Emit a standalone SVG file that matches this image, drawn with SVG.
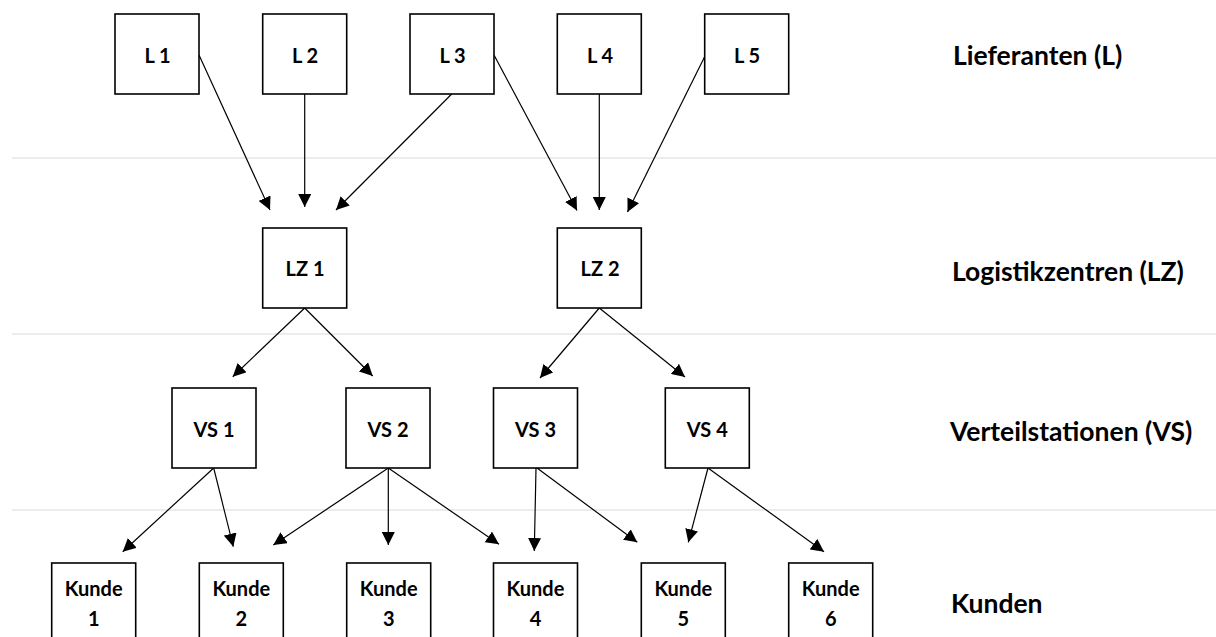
<svg xmlns="http://www.w3.org/2000/svg" width="1216" height="637" viewBox="0 0 1216 637">
<style>
.box{fill:#fff;stroke:#000;stroke-width:1.6}
.lbl{font-family:Lato,"Open Sans","Liberation Sans",sans-serif;font-weight:bold;font-size:20px;fill:#000;text-anchor:middle}
.lvl{font-family:Lato,"Open Sans","Liberation Sans",sans-serif;font-weight:bold;font-size:26.5px;fill:#000}
.sep{stroke:#d9d9d9;stroke-width:1.2}
.con{stroke:#000;stroke-width:1.2;fill:none;marker-end:url(#ah)}
</style>
<defs>
<marker id="ah" markerWidth="13" markerHeight="13" refX="13" refY="6.5" orient="auto" markerUnits="userSpaceOnUse">
<path d="M0,0 L13,6.5 L0,13 Z" fill="#000"/>
</marker>
</defs>
<rect width="1216" height="637" fill="#fff"/>
<g id="separators">
<line class="sep" x1="12" y1="158" x2="1216" y2="158"/>
<line class="sep" x1="12" y1="334" x2="1216" y2="334"/>
<line class="sep" x1="12" y1="510" x2="1216" y2="510"/>
</g>
<g id="levels">
<text class="lvl" x="953" y="65">Lieferanten (L)</text>
<text class="lvl" x="952" y="281">Logistikzentren (LZ)</text>
<text class="lvl" x="950" y="441">Verteilstationen (VS)</text>
<text class="lvl" x="951" y="613">Kunden</text>
</g>
<g id="connectors">
<line class="con" x1="199" y1="55" x2="270" y2="210"/>
<line class="con" x1="304.7" y1="94" x2="304.7" y2="207"/>
<line class="con" x1="451.7" y1="94" x2="336" y2="210"/>
<line class="con" x1="494" y1="55" x2="577" y2="210.5"/>
<line class="con" x1="599.3" y1="94" x2="599.3" y2="210"/>
<line class="con" x1="705" y1="56" x2="627.5" y2="212"/>
<line class="con" x1="304.7" y1="308" x2="232.7" y2="376.7"/>
<line class="con" x1="304.7" y1="308" x2="372.7" y2="376"/>
<line class="con" x1="599.3" y1="308" x2="540" y2="378"/>
<line class="con" x1="599.3" y1="308" x2="685" y2="377"/>
<line class="con" x1="213.7" y1="468" x2="122.7" y2="551.7"/>
<line class="con" x1="213.7" y1="468" x2="233.3" y2="546.7"/>
<line class="con" x1="388.3" y1="468" x2="273.3" y2="545"/>
<line class="con" x1="388.3" y1="468" x2="388.3" y2="545"/>
<line class="con" x1="388.3" y1="468" x2="499" y2="544.3"/>
<line class="con" x1="536" y1="468" x2="534.3" y2="551"/>
<line class="con" x1="537" y1="468" x2="637.3" y2="542.3"/>
<line class="con" x1="708" y1="468" x2="688.3" y2="542.3"/>
<line class="con" x1="708" y1="468" x2="824" y2="551.7"/>
</g>
<g id="L1"><rect class="box" x="115" y="14" width="84" height="80"/><text class="lbl" x="157.5" y="62.5">L 1</text></g>
<g id="L2"><rect class="box" x="262.7" y="14" width="84" height="80"/><text class="lbl" x="305" y="62.5">L 2</text></g>
<g id="L3"><rect class="box" x="410" y="14" width="84" height="80"/><text class="lbl" x="452.5" y="62.5">L 3</text></g>
<g id="L4"><rect class="box" x="557.3" y="14" width="84" height="80"/><text class="lbl" x="600" y="62.5">L 4</text></g>
<g id="L5"><rect class="box" x="704.7" y="14" width="84" height="80"/><text class="lbl" x="747" y="62.5">L 5</text></g>
<g id="LZ1"><rect class="box" x="262.7" y="228" width="84" height="80"/><text class="lbl" x="305" y="276">LZ 1</text></g>
<g id="LZ2"><rect class="box" x="557.3" y="228" width="84" height="80"/><text class="lbl" x="600" y="276">LZ 2</text></g>
<g id="VS1"><rect class="box" x="172" y="388" width="84" height="80"/><text class="lbl" x="214" y="436.5">VS 1</text></g>
<g id="VS2"><rect class="box" x="346" y="388" width="84" height="80"/><text class="lbl" x="388" y="436.5">VS 2</text></g>
<g id="VS3"><rect class="box" x="493.5" y="388" width="84" height="80"/><text class="lbl" x="535.5" y="436.5">VS 3</text></g>
<g id="VS4"><rect class="box" x="665.3" y="388" width="84" height="80"/><text class="lbl" x="707.3" y="436.5">VS 4</text></g>
<g id="K1"><rect class="box" x="51.7" y="563" width="84" height="80"/><text class="lbl" x="93.7" y="596">Kunde</text><text class="lbl" x="93.7" y="626">1</text></g>
<g id="K2"><rect class="box" x="199.3" y="563" width="84" height="80"/><text class="lbl" x="241.3" y="596">Kunde</text><text class="lbl" x="241.3" y="626">2</text></g>
<g id="K3"><rect class="box" x="346.7" y="563" width="84" height="80"/><text class="lbl" x="388.7" y="596">Kunde</text><text class="lbl" x="388.7" y="626">3</text></g>
<g id="K4"><rect class="box" x="493.5" y="563" width="84" height="80"/><text class="lbl" x="535.5" y="596">Kunde</text><text class="lbl" x="535.5" y="626">4</text></g>
<g id="K5"><rect class="box" x="641.3" y="563" width="84" height="80"/><text class="lbl" x="683.3" y="596">Kunde</text><text class="lbl" x="683.3" y="626">5</text></g>
<g id="K6"><rect class="box" x="788.7" y="563" width="84" height="80"/><text class="lbl" x="830.7" y="596">Kunde</text><text class="lbl" x="830.7" y="626">6</text></g>
</svg>
